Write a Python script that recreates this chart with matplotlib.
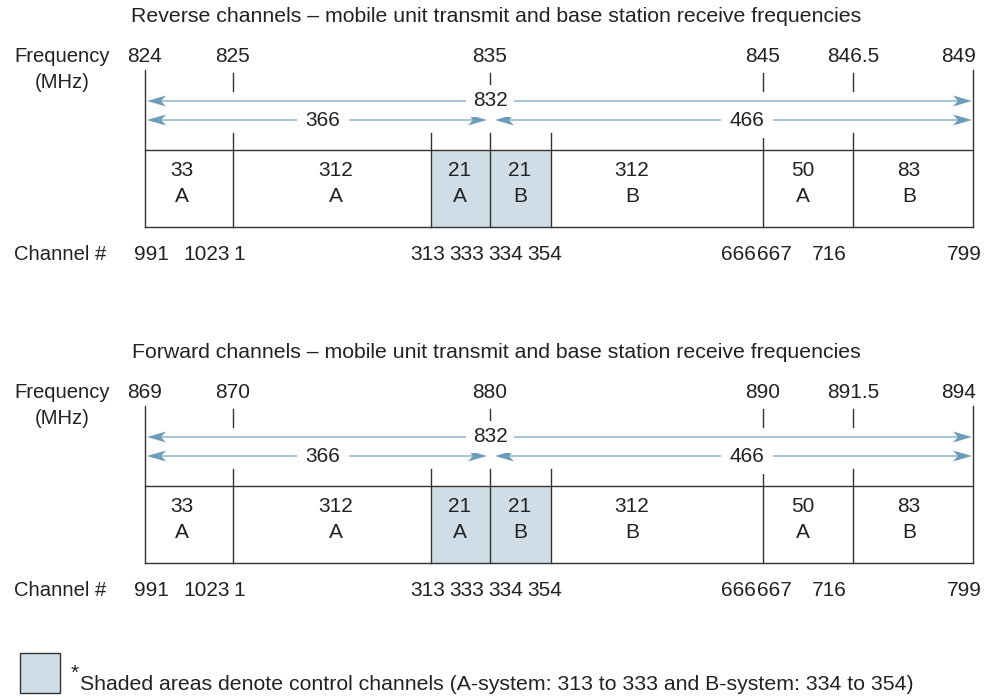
import matplotlib
matplotlib.use("Agg")
import matplotlib.pyplot as plt
from matplotlib.patches import Rectangle, Polygon

plt.rcParams["font.family"] = ["Liberation Sans", "DejaVu Sans"]

# data
panel_titles = ["Reverse channels \u2013 mobile unit transmit and base station receive frequencies",
                "Forward channels \u2013 mobile unit transmit and base station receive frequencies"]
reverse_freqs = ["824", "825", "835", "845", "846.5", "849"]
forward_freqs = ["869", "870", "880", "890", "891.5", "894"]
band_counts = [33, 312, 21, 21, 312, 50, 83]
band_systems = ["A", "A", "A", "B", "B", "A", "B"]
band_control = [False, False, True, True, False, False, False]
channel_labels = ["991", "1023", "1", "313", "333", "334", "354", "666", "667", "716", "799"]
total_channels = 832
a_side_channels = 366
b_side_channels = 466
legend_text = "Shaded areas denote control channels (A-system: 313 to 333 and B-system: 334 to 354)"

# layout (pixels, schematic)
edges = [145, 233, 431, 490, 551, 763, 853, 973]
freq_edge_idx = [0, 1, 3, 5, 6, 7]
band_text_x = [182, 336, 460, 520, 632, 803, 909]
channel_x = [151, 207, 239, 428, 467, 506, 545, 738, 774, 829, 964]
panel_offsets = [0, 336]

LINE = "#333333"
TXT = "#222222"
ARROW_LINE = "#8db4c9"
ARROW_HEAD = "#6b9db8"
SHADE = "#d0dde6"
FS = 15
FS_LONG = 15.3

fig = plt.figure(figsize=(9.85, 6.98), dpi=100)
ax = fig.add_axes([0, 0, 1, 1])
ax.set_xlim(0, 985)
ax.set_ylim(698, 0)
ax.axis("off")


def head(x, y, direction):
    # stealth style arrow head, tip at (x, y)
    L, W, N = 19, 5.5, 5
    d = direction
    pts = [(x, y), (x - d * L, y - W), (x - d * (L - N), y), (x - d * L, y + W)]
    ax.add_patch(Polygon(pts, closed=True, fc=ARROW_HEAD, ec="none", zorder=3))


def span_arrow(x0, x1, y):
    ax.plot([x0 + 10, x1 - 10], [y, y], color=ARROW_LINE, lw=1.1, zorder=2)
    head(x0, y, -1)
    head(x1, y, 1)


def draw_panel(y0, title, freqs):
    ax.text(496, y0 + 16, title, ha="center", va="center", fontsize=FS_LONG, color=TXT)
    ax.text(14, y0 + 57, "Frequency", ha="left", va="center", fontsize=FS - 0.4, color=TXT)
    ax.text(62, y0 + 82, "(MHz)", ha="center", va="center", fontsize=FS - 0.4, color=TXT)
    ax.text(14, y0 + 255, "Channel #", ha="left", va="center", fontsize=FS - 0.4, color=TXT)

    for k, (idx, f) in enumerate(zip(freq_edge_idx, freqs)):
        if k == len(freqs) - 1:
            ax.text(edges[idx] + 3, y0 + 57, f, ha="right", va="center", fontsize=FS, color=TXT)
        else:
            ax.text(edges[idx], y0 + 57, f, ha="center", va="center", fontsize=FS, color=TXT)

    # shaded control channel bands
    for i, ctrl in enumerate(band_control):
        if ctrl:
            ax.add_patch(Rectangle((edges[i], y0 + 150), edges[i + 1] - edges[i], 77,
                                   fc=SHADE, ec="none", zorder=1))

    # box
    ax.plot([edges[0], edges[-1]], [y0 + 150, y0 + 150], color=LINE, lw=1.0, zorder=2)
    ax.plot([edges[0], edges[-1]], [y0 + 227, y0 + 227], color=LINE, lw=1.0, zorder=2)
    for i, x in enumerate(edges):
        if i in (0, len(edges) - 1):
            ax.plot([x, x], [y0 + 70, y0 + 227], color=LINE, lw=1.0, zorder=2)
        else:
            ax.plot([x, x], [y0 + 133, y0 + 227], color=LINE, lw=1.0, zorder=2)
            if i in freq_edge_idx:
                ax.plot([x, x], [y0 + 73, y0 + 91], color=LINE, lw=1.0, zorder=2)

    # spans
    y1, y2 = y0 + 101, y0 + 120
    span_arrow(edges[0] + 2, edges[-1] - 1, y1)
    ax.text(edges[3], y1, str(total_channels), ha="center", va="center", fontsize=FS, color=TXT,
            zorder=4, bbox=dict(fc="white", ec="none", pad=5))
    span_arrow(edges[0] + 2, edges[3] - 3, y2)
    ax.text(323, y2, str(a_side_channels), ha="center", va="center", fontsize=FS, color=TXT,
            zorder=4, bbox=dict(fc="white", ec="none", pad=6))
    span_arrow(edges[3] + 5, edges[-1] - 1, y2)
    ax.text(747, y2, str(b_side_channels), ha="center", va="center", fontsize=FS, color=TXT,
            zorder=4, bbox=dict(fc="white", ec="none", pad=6))

    for x, n, s in zip(band_text_x, band_counts, band_systems):
        ax.text(x, y0 + 170, str(n), ha="center", va="center", fontsize=FS, color=TXT, zorder=4)
        ax.text(x, y0 + 196, s, ha="center", va="center", fontsize=FS, color=TXT, zorder=4)

    for x, c in zip(channel_x, channel_labels):
        ax.text(x, y0 + 255, c, ha="center", va="center", fontsize=FS, color=TXT)


draw_panel(panel_offsets[0], panel_titles[0], reverse_freqs)
draw_panel(panel_offsets[1], panel_titles[1], forward_freqs)

# legend
ax.add_patch(Rectangle((20, 653), 40, 40, fc=SHADE, ec=LINE, lw=1.0))
ax.text(71, 673, "*", ha="left", va="center", fontsize=FS, color=TXT)
ax.text(80, 684, legend_text, ha="left", va="center", fontsize=FS_LONG, color=TXT)

fig.savefig("out.png", dpi=100)
